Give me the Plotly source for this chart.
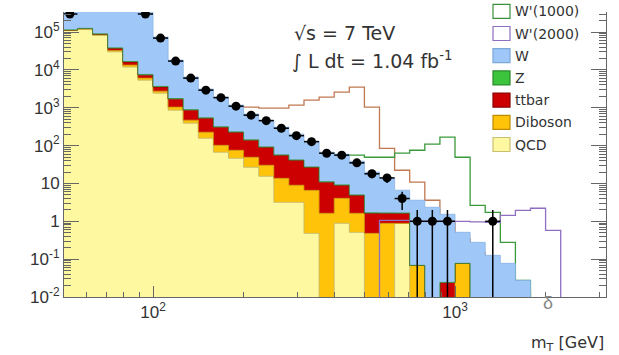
import math
import plotly.graph_objects as go

# ---------------- data ----------------
mt_edges = [50.1, 56.2, 63.1, 70.8, 79.4, 89.1, 100.0, 112.2, 125.9, 141.3, 158.5,
            177.8, 199.5, 223.9, 251.2, 281.8, 316.2, 354.8, 398.1, 446.7, 501.2,
            562.3, 631.0, 707.9, 794.3, 891.3, 1000.0, 1122.0, 1259.0, 1413.0,
            1585.0, 1778.0, 1995.0, 2239.0, 2512.0, 2818.0, 3162.0]

qcd = [110000, 118000, 82000, 30000, 11900, 5370, 2430, 865, 392, 157, 66.9, 46.4,
       26.8, 15.5, 3.18, 3.18, 0.48, 0, 0.885, 0.51, 0, 0, 0.885, 0, 0, 0, 0, 0,
       0, 0, 0, 0, 0, 0, 0, 0]
diboson = [1500, 2500, 2500, 2500, 1500, 700, 320, 175, 78, 69, 35, 29, 22.5, 14.8,
           10.5, 5.8, 6.1, 1.63, 3.17, 1.12, 0.48, 0.885, 0, 0.0685, 0, 0, 0.0774,
           0, 0, 0, 0, 0, 0, 0, 0, 0]
ttbar = [1500, 3000, 3500, 4500, 2700, 1210, 760, 650, 395, 305, 205, 150, 90, 60,
         42, 32, 20.2, 9.2, 4.9, 3.24, 1.15, 0.75, 0.75, 0, 0, 0.0243, 0, 0, 0, 0,
         0, 0, 0, 0, 0, 0]
zjets = [800, 1500, 1800, 1200, 600, 300, 150, 60, 25, 12, 8, 5, 3, 2, 1.2, 0.8,
         0.5, 0.3, 0.2, 0.1, 0.05, 0.03, 0.02, 0, 0, 0, 0, 0, 0, 0, 0, 0, 0, 0, 0, 0]
wjets = [400000, 900000, 1100000, 900000, 600000, 350000, 70300, 16460, 5595, 2574,
         1598, 945, 538, 379, 251, 159, 104, 56, 50, 33.7, 18.2, 12.1, 4.97, 3.53,
         2.35, 1.51, 0.435, 0.278, 0.126, 0.0774, 0.0275, 0, 0, 0, 0, 0]

data = [300000, 850000, 1000000, 860000, 580000, 300000, 69300, 17100, 6070, 2920,
        1850, 1100, 637, 456, 288, 183, 127, 63, 56, 35, 18, 14, 4, 1, 1, 1, 0, 0,
        1, 0, 0, 0, 0, 0, 0, 0]

wp500 = [600, 680, 760, 820, 870, 910, 950, 980, 1000, 1010, 1020, 1030, 1040, 975,
         975, 1171, 1588, 1905, 2590, 3510, 1040, 85, 22.3, 10.8, 3.6, 1.0, 0.35,
         0.15, 0.06, 0.03, 0.012, 0, 0, 0, 0, 0]
wp1000 = [30, 35, 38, 42, 45, 48, 50, 52, 55, 57, 58, 60, 60, 62, 62, 63, 63, 63,
          55.7, 55.7, 49.3, 49.3, 63, 75.5, 109, 167, 49.3, 2.65, 1.73, 0.278,
          0.0275, 0, 0, 0, 0, 0]
wp2000 = [0, 0, 0, 0, 0, 0, 0, 0, 0, 0, 0, 0, 0, 0, 0, 0, 0, 0, 0, 0, 0, 1.06, 1.06,
          1.0, 1.0, 1.0, 1.0, 0.97, 0.94, 1.44, 1.95, 2.21, 0.578, 0, 0, 0]

y_tickvals = [0.01, 0.1, 1, 10, 100, 1000, 10000, 100000]
y_ticktext = ["10<sup>-2</sup>", "10<sup>-1</sup>", "1", "10", "10<sup>2</sup>",
              "10<sup>3</sup>", "10<sup>4</sup>", "10<sup>5</sup>"]
x_tickvals = [100, 1000]
x_ticktext = ["10<sup>2</sup>", "10<sup>3</sup>"]

legend_items = [
    ("W'(1000)", "white", "#3a8f3a"),
    ("W'(2000)", "white", "#8e6fc0"),
    ("W", "#9fc8f8", "#7aa6d8"),
    ("Z", "#3cc43c", "#2a8a2a"),
    ("ttbar", "#cc0000", "#8a0000"),
    ("Diboson", "#ffc40a", "#c08a00"),
    ("QCD", "#fef8a0", "#c8c070"),
]

# ---------------- helpers ----------------
FLOOR = 1e-5


def step_y(vals):
    v = [x if x > 0 else FLOOR for x in vals]
    return v + [v[-1]]


def cumulate(*series):
    out = []
    for i in range(len(series[0])):
        out.append(sum(s[i] for s in series))
    return out


fig = go.Figure()

# signal outlines drawn behind the stack
fig.add_trace(go.Scatter(x=mt_edges, y=step_y(wp500), mode="lines", line_shape="hv",
                         line=dict(color="#c07850", width=1.3), showlegend=False))
fig.add_trace(go.Scatter(x=mt_edges, y=step_y(wp1000), mode="lines", line_shape="hv",
                         line=dict(color="#3a9a3a", width=1.3), showlegend=False))

# baseline for stacked fills
fig.add_trace(go.Scatter(x=mt_edges, y=[FLOOR] * len(mt_edges), mode="lines",
                         line_shape="hv", line=dict(width=0, color="rgba(0,0,0,0)"),
                         showlegend=False))

layers = [
    (cumulate(qcd), "#fef8a0", "#bdb56a"),
    (cumulate(qcd, diboson), "#ffc40a", "#c99400"),
    (cumulate(qcd, diboson, ttbar), "#cc0000", "#900000"),
    (cumulate(qcd, diboson, ttbar, zjets), "#3cc43c", "#2a8a2a"),
    (cumulate(qcd, diboson, ttbar, zjets, wjets), "#9fc8f8", "#86b2e4"),
]
for vals, fc, lc in layers:
    fig.add_trace(go.Scatter(x=mt_edges, y=step_y(vals), mode="lines", line_shape="hv",
                             fill="tonexty", fillcolor=fc,
                             line=dict(color=lc, width=0.8), showlegend=False))

# W'(2000) drawn on top
fig.add_trace(go.Scatter(x=mt_edges, y=step_y(wp2000), mode="lines", line_shape="hv",
                         line=dict(color="#8e6fc0", width=1.3), showlegend=False))

# data points
cx, cy, ey, exp_, exm = [], [], [], [], []
for i, n in enumerate(data):
    if n <= 0:
        continue
    lo, hi = mt_edges[i], mt_edges[i + 1]
    c = math.sqrt(lo * hi)
    cx.append(c)
    cy.append(n)
    ey.append(math.sqrt(n))
    exp_.append(hi - c)
    exm.append(c - lo)
fig.add_trace(go.Scatter(
    x=cx, y=cy, mode="markers",
    marker=dict(color="black", size=9, symbol="circle"),
    error_y=dict(type="data", array=ey, color="black", thickness=1.5, width=0),
    error_x=dict(type="data", symmetric=False, array=exp_, arrayminus=exm,
                 color="black", thickness=1.5, width=0),
    showlegend=False))

# ---------------- layout ----------------
L, R, T, B = 64, 13, 12, 58
W, H = 619, 355
pw, ph = W - L - R, H - T - B


def px2paper_x(px):
    return (px - L) / pw


def px2paper_y(py):
    return (H - B - py) / ph


minor_y = [m * 10 ** e for e in range(-2, 6) for m in range(2, 10)]
minor_x = [m * 10 ** e for e in range(1, 4) for m in range(2, 10)]

axis_col = "#666666"
font_col = "#333333"
wide_font = "DejaVu Sans, Verdana, sans-serif"

fig.update_layout(
    width=W, height=H, autosize=False,
    margin=dict(l=L, r=R, t=T, b=B, pad=0),
    paper_bgcolor="white", plot_bgcolor="white",
    font=dict(family="Liberation Sans, Arial, sans-serif", color=font_col),
    showlegend=False,
    xaxis=dict(type="log", range=[1.7053, 3.5], showgrid=False, zeroline=False,
               showline=True, linecolor=axis_col, linewidth=1, mirror=False,
               ticks="inside", ticklen=11, tickcolor=axis_col,
               tickvals=x_tickvals, ticktext=x_ticktext,
               tickfont=dict(size=17, color=font_col),
               minor=dict(ticks="inside", ticklen=5, tickcolor=axis_col,
                          tickvals=minor_x, showgrid=False)),
    yaxis=dict(type="log", range=[-2, 5.53], showgrid=False, zeroline=False,
               showline=True, linecolor=axis_col, linewidth=1, mirror="ticks",
               ticks="inside", ticklen=15, tickcolor=axis_col,
               tickvals=y_tickvals, ticktext=y_ticktext,
               tickfont=dict(size=17, color=font_col),
               minor=dict(ticks="inside", ticklen=7, tickcolor=axis_col,
                          tickvals=minor_y, showgrid=False)),
)

annotations = [
    dict(x=px2paper_x(292), y=px2paper_y(33), xref="paper", yref="paper",
         text="√s = 7 TeV", showarrow=False, xanchor="left", yanchor="middle",
         font=dict(size=19, color=font_col, family=wide_font)),
    dict(x=px2paper_x(290), y=px2paper_y(61), xref="paper", yref="paper",
         text="∫ L dt = 1.04 fb<sup>-1</sup>", showarrow=False, xanchor="left",
         yanchor="middle", font=dict(size=19, color=font_col, family=wide_font)),
    dict(x=1.0, y=px2paper_y(343), xref="paper", yref="paper",
         text="m<sub>T</sub> [GeV]", showarrow=False, xanchor="right",
         yanchor="middle", font=dict(size=16, color=font_col, family=wide_font)),
    dict(x=px2paper_x(548), y=px2paper_y(303), xref="paper", yref="paper",
         text="δ", showarrow=False, xanchor="center", yanchor="middle",
         font=dict(size=18, color="#888888")),
]
shapes = []
bx0, bx1 = px2paper_x(493), px2paper_x(510)
for k, (label, fc, lc) in enumerate(legend_items):
    cyp = 11.3 + 22.2 * k
    shapes.append(dict(type="rect", xref="paper", yref="paper",
                       x0=bx0, x1=bx1, y0=px2paper_y(cyp + 7), y1=px2paper_y(cyp - 7),
                       fillcolor=fc, line=dict(color=lc, width=1.2), layer="above"))
    annotations.append(dict(x=px2paper_x(513), y=px2paper_y(cyp), xref="paper",
                            yref="paper", text=label, showarrow=False,
                            xanchor="left", yanchor="middle",
                            font=dict(size=14, color=font_col, family=wide_font)))

fig.update_layout(annotations=annotations, shapes=shapes)

fig.write_html("out.html")
